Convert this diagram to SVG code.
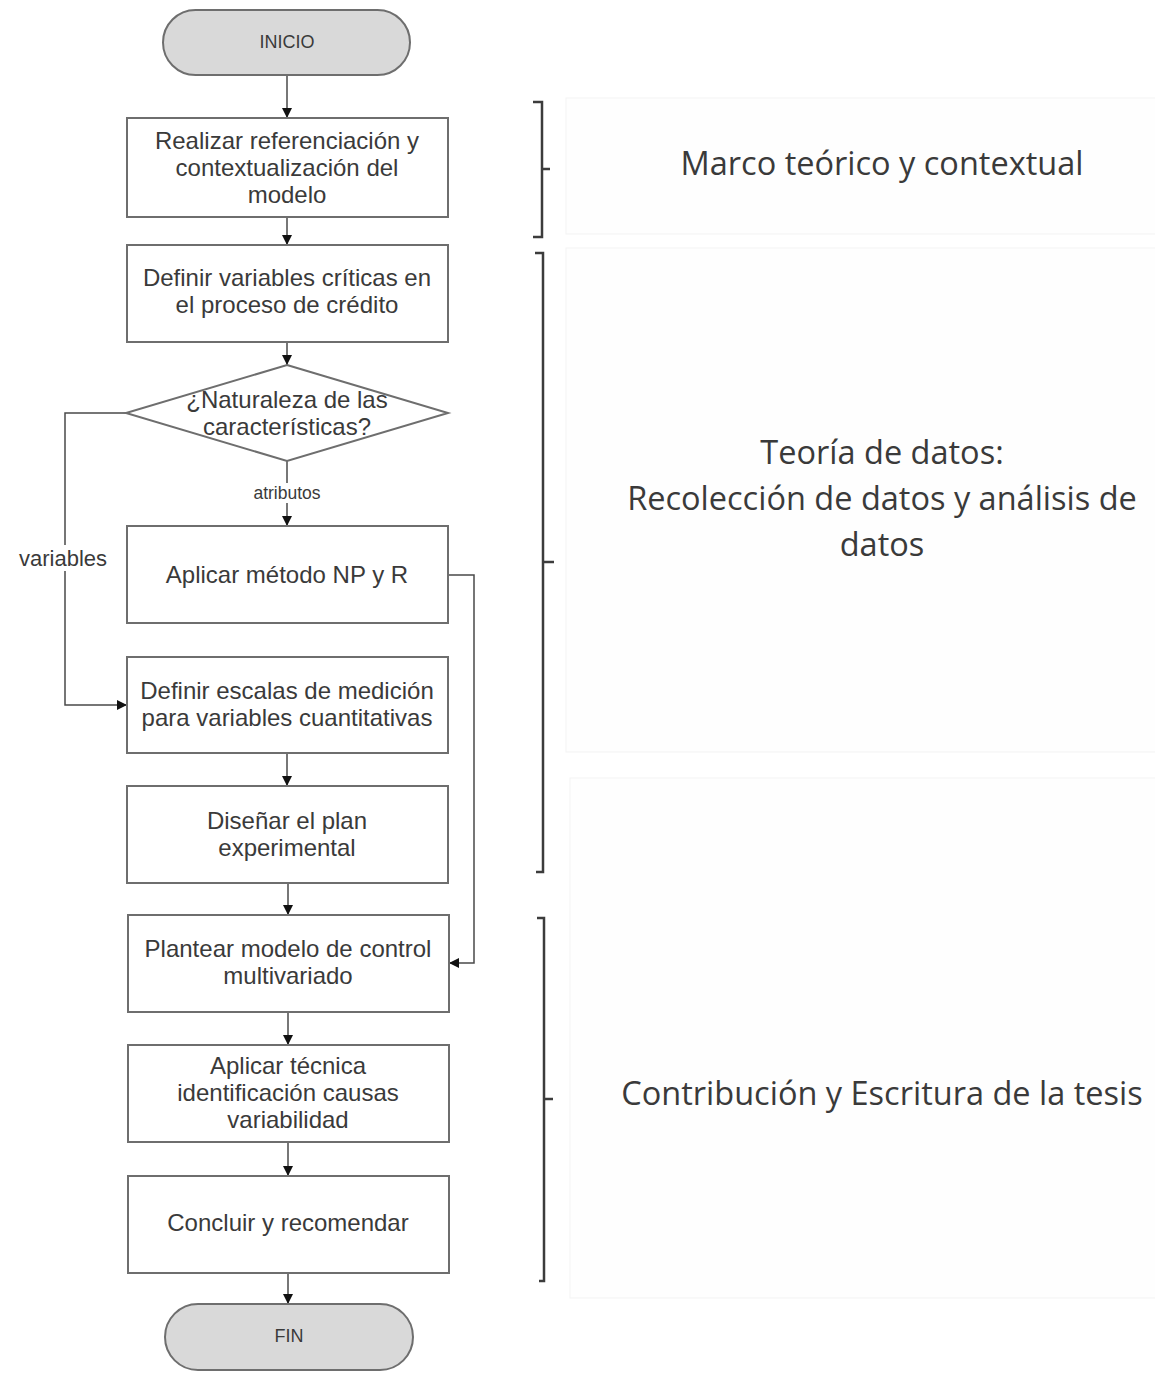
<svg xmlns="http://www.w3.org/2000/svg" width="1155" height="1397" viewBox="0 0 1155 1397">
  <defs>
    <marker id="arrow" viewBox="0 0 10 10" refX="10" refY="5" markerWidth="10" markerHeight="10" markerUnits="userSpaceOnUse" orient="auto">
      <path d="M0,0 L10,5 L0,10 Z" fill="#111"/>
    </marker>
    <style>
      .box { fill: #ffffff; stroke: #6e6e6e; stroke-width: 2; }
      .term { fill: #d9d9d9; stroke: #6e6e6e; stroke-width: 2; }
      .lbl { font-family: "Liberation Sans", Arial, sans-serif; font-size: 24px; fill: #3a3a3a; text-anchor: middle; dominant-baseline: central; }
      .small { font-size: 18px; }
      .edge { fill: none; stroke: #4a4a4a; stroke-width: 1.5; }
      .elbl { font-family: "Liberation Sans", Arial, sans-serif; fill: #3a3a3a; text-anchor: middle; dominant-baseline: central; }
      .bracket { fill: none; stroke: #3c3c3c; stroke-width: 2.5; }
      .phase { font-family: "Open Sans", Lato, sans-serif; font-size: 32.5px; fill: #3a3a3a; text-anchor: middle; dominant-baseline: central; }
      .panel { fill: #fefefe; stroke: #f3f3f3; stroke-width: 1; }
    </style>
  </defs>

  <rect width="1155" height="1397" fill="#ffffff"/>

  <!-- phase panels behind the side labels -->
  <g id="panels">
    <rect class="panel" x="566" y="98" width="595" height="136"/>
    <rect class="panel" x="566" y="248" width="595" height="504"/>
    <rect class="panel" x="570" y="778" width="591" height="520"/>
  </g>

  <!-- connectors -->
  <g id="connectors">
    <line class="edge" x1="287" y1="75" x2="287" y2="118" marker-end="url(#arrow)"/>
    <line class="edge" x1="287" y1="217" x2="287" y2="245" marker-end="url(#arrow)"/>
    <line class="edge" x1="287" y1="342" x2="287" y2="365" marker-end="url(#arrow)"/>
    <line class="edge" x1="287" y1="461" x2="287" y2="526" marker-end="url(#arrow)"/>
    <polyline class="edge" points="128,413 65,413 65,705 127,705" marker-end="url(#arrow)"/>
    <polyline class="edge" points="448,575 474,575 474,963 449,963" marker-end="url(#arrow)"/>
    <line class="edge" x1="287" y1="753" x2="287" y2="786" marker-end="url(#arrow)"/>
    <line class="edge" x1="288" y1="883" x2="288" y2="915" marker-end="url(#arrow)"/>
    <line class="edge" x1="288" y1="1012" x2="288" y2="1045" marker-end="url(#arrow)"/>
    <line class="edge" x1="288" y1="1142" x2="288" y2="1176" marker-end="url(#arrow)"/>
    <line class="edge" x1="288" y1="1273" x2="288" y2="1304" marker-end="url(#arrow)"/>
    <rect x="246" y="483" width="82" height="20" fill="#ffffff"/>
    <text class="elbl" x="287" y="493" font-size="17.5">atributos</text>
    <rect x="12" y="545" width="104" height="26" fill="#ffffff"/>
    <text class="elbl" x="63" y="558" font-size="22">variables</text>
  </g>

  <!-- flow nodes -->
  <g id="inicio">
    <rect class="term" x="163" y="10" width="247" height="65" rx="32.5"/>
    <text class="lbl small" x="287" y="42">INICIO</text>
  </g>
  <g id="referenciacion">
    <rect class="box" x="127" y="118" width="321" height="99"/>
    <text class="lbl" x="287" y="140">Realizar referenciación y</text>
    <text class="lbl" x="287" y="167">contextualización del</text>
    <text class="lbl" x="287" y="194">modelo</text>
  </g>
  <g id="variables-criticas">
    <rect class="box" x="127" y="245" width="321" height="97"/>
    <text class="lbl" x="287" y="277">Definir variables críticas en</text>
    <text class="lbl" x="287" y="304">el proceso de crédito</text>
  </g>
  <g id="naturaleza">
    <polygon class="box" points="287,365 448,413 287,461 126,413"/>
    <text class="lbl" x="287" y="399">¿Naturaleza de las</text>
    <text class="lbl" x="287" y="426">características?</text>
  </g>
  <g id="metodo-np">
    <rect class="box" x="127" y="526" width="321" height="97"/>
    <text class="lbl" x="287" y="574">Aplicar método NP y R</text>
  </g>
  <g id="escalas">
    <rect class="box" x="127" y="657" width="321" height="96"/>
    <text class="lbl" x="287" y="690">Definir escalas de medición</text>
    <text class="lbl" x="287" y="717">para variables cuantitativas</text>
  </g>
  <g id="plan-experimental">
    <rect class="box" x="127" y="786" width="321" height="97"/>
    <text class="lbl" x="287" y="820">Diseñar el plan</text>
    <text class="lbl" x="287" y="847">experimental</text>
  </g>
  <g id="modelo-control">
    <rect class="box" x="128" y="915" width="321" height="97"/>
    <text class="lbl" x="288" y="948">Plantear modelo de control</text>
    <text class="lbl" x="288" y="975">multivariado</text>
  </g>
  <g id="tecnica">
    <rect class="box" x="128" y="1045" width="321" height="97"/>
    <text class="lbl" x="288" y="1065">Aplicar técnica</text>
    <text class="lbl" x="288" y="1092">identificación causas</text>
    <text class="lbl" x="288" y="1119">variabilidad</text>
  </g>
  <g id="concluir">
    <rect class="box" x="128" y="1176" width="321" height="97"/>
    <text class="lbl" x="288" y="1222">Concluir y recomendar</text>
  </g>
  <g id="fin">
    <rect class="term" x="165" y="1304" width="248" height="66" rx="33"/>
    <text class="lbl small" x="289" y="1336">FIN</text>
  </g>

  <!-- phase brackets and labels -->
  <g id="fase-marco">
    <path class="bracket" d="M533,102 H542 V237 H533 M542,169 H550"/>
    <text class="phase" x="882" y="162">Marco teórico y contextual</text>
  </g>
  <g id="fase-datos">
    <path class="bracket" d="M535,253 H543 V872 H536 M543,562 H554"/>
    <text class="phase" x="882" y="451">Teoría de datos:</text>
    <text class="phase" x="882" y="497">Recolección de datos y análisis de</text>
    <text class="phase" x="882" y="543">datos</text>
  </g>
  <g id="fase-contribucion">
    <path class="bracket" d="M537,918 H544 V1281 H539 M544,1099 H553"/>
    <text class="phase" x="882" y="1092">Contribución y Escritura de la tesis</text>
  </g>
</svg>
